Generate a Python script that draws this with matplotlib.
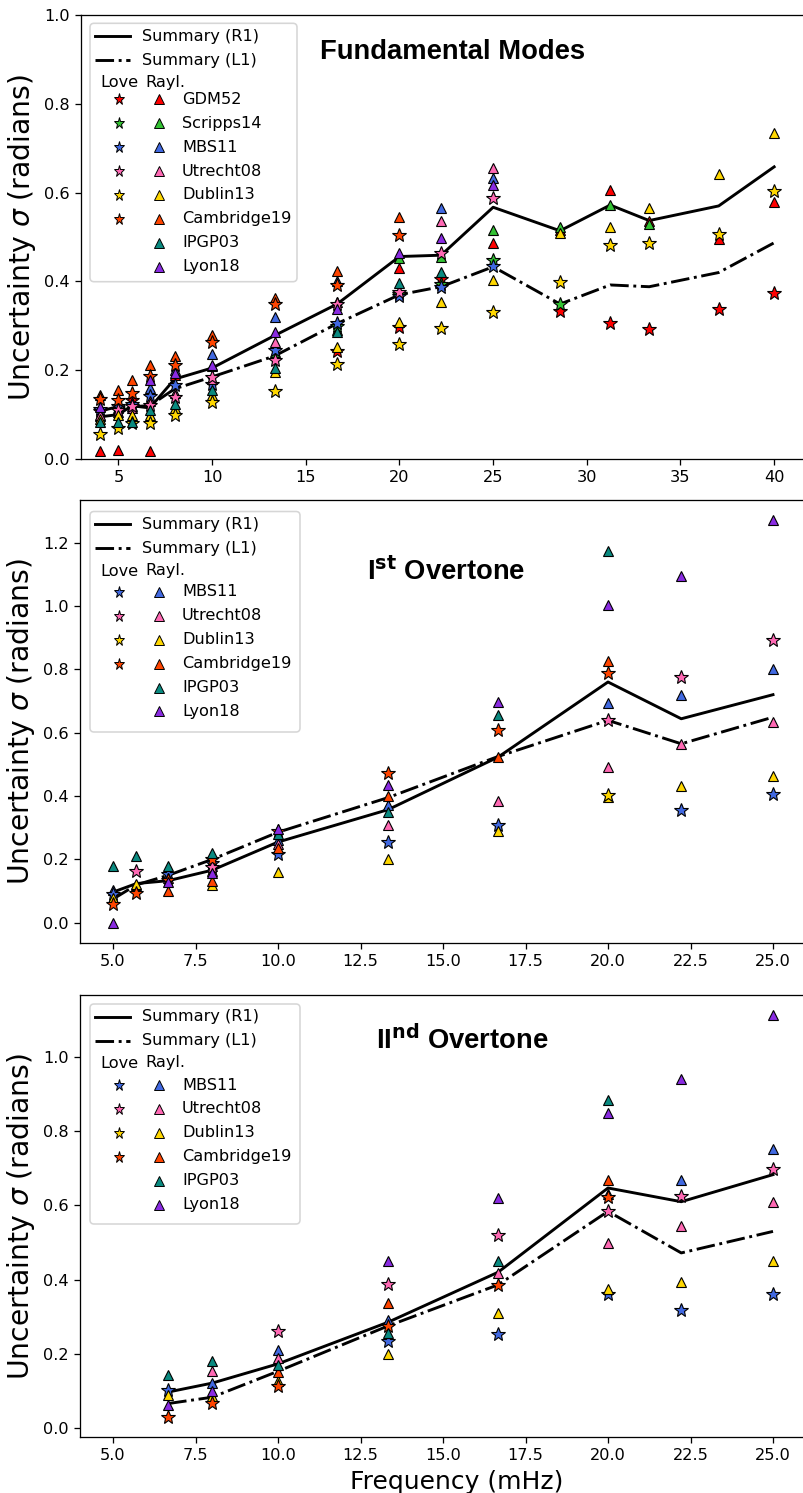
import numpy as np
import matplotlib
matplotlib.use("Agg")
import matplotlib.pyplot as plt
from matplotlib.lines import Line2D
from matplotlib.patches import FancyBboxPatch

nan = np.nan

# ---------------- data ----------------
MODELS = ["GDM52", "Scripps14", "MBS11", "Utrecht08", "Dublin13", "Cambridge19", "IPGP03", "Lyon18"]
COLORS = {"GDM52": "#ff0000", "Scripps14": "#33c233", "MBS11": "#4169e1", "Utrecht08": "#ff69b4",
          "Dublin13": "#ffd700", "Cambridge19": "#ff4500", "IPGP03": "#0a8a80", "Lyon18": "#8a2be2"}

# Fundamental modes
freq_fund = [4.0, 5.0, 5.71, 6.67, 8.0, 10.0, 13.33, 16.67, 20.0, 22.22, 25.0, 28.57, 31.25, 33.33, 37.04, 40.0]
fund_R1 = [0.095, 0.100, 0.120, 0.115, 0.180, 0.205, 0.278, 0.349, 0.456, 0.459, 0.567, 0.514, 0.572, 0.537, 0.570, 0.658]
fund_L1 = [0.108, 0.118, 0.118, 0.120, 0.158, 0.185, 0.232, 0.305, 0.370, 0.388, 0.433, 0.349, 0.392, 0.388, 0.420, 0.487]
fund_rayl_GDM52 = [0.017, 0.020, nan, 0.017, 0.190, nan, nan, nan, 0.430, nan, 0.486, 0.515, 0.606, 0.535, 0.495, 0.579]
fund_love_GDM52 = [0.107, nan, 0.134, nan, nan, nan, nan, 0.244, 0.298, 0.405, nan, 0.334, 0.306, 0.292, 0.337, 0.375]
fund_rayl_Scripps14 = [nan, nan, nan, nan, nan, 0.210, 0.240, 0.290, 0.453, 0.454, 0.516, 0.523, 0.572, 0.529, nan, nan]
fund_love_Scripps14 = [nan, nan, nan, nan, nan, nan, nan, 0.300, 0.372, 0.395, 0.448, 0.349, nan, nan, nan, nan]
fund_rayl_MBS11 = [0.096, 0.115, 0.120, 0.159, 0.200, 0.236, 0.319, 0.400, nan, 0.565, 0.632, nan, nan, nan, nan, nan]
fund_love_MBS11 = [0.113, 0.119, 0.125, 0.142, 0.167, 0.170, 0.245, 0.306, 0.368, 0.388, 0.435, nan, nan, nan, nan, nan]
fund_rayl_Utrecht08 = [0.100, 0.105, 0.114, 0.130, 0.148, 0.180, 0.264, 0.354, nan, 0.536, 0.655, nan, nan, nan, nan, nan]
fund_love_Utrecht08 = [nan, 0.110, 0.120, 0.122, 0.140, 0.185, 0.223, 0.350, 0.377, 0.463, 0.587, nan, nan, nan, nan, nan]
fund_rayl_Dublin13 = [0.090, 0.100, 0.099, 0.100, 0.114, 0.144, 0.197, 0.253, 0.309, 0.354, 0.403, 0.508, 0.523, 0.565, 0.643, 0.735]
fund_love_Dublin13 = [0.056, 0.069, 0.080, 0.082, 0.099, 0.129, 0.153, 0.214, 0.259, 0.296, 0.332, 0.399, 0.482, 0.487, 0.506, 0.604]
fund_rayl_Cambridge19 = [0.144, 0.155, 0.179, 0.212, 0.232, 0.279, 0.362, 0.424, 0.544, nan, nan, nan, nan, nan, nan, nan]
fund_love_Cambridge19 = [0.135, 0.134, 0.148, 0.187, 0.212, 0.264, 0.349, 0.392, 0.505, nan, nan, nan, nan, nan, nan, nan]
fund_rayl_IPGP03 = [0.084, 0.084, 0.084, 0.110, 0.125, 0.155, 0.206, 0.287, 0.396, 0.422, nan, nan, nan, nan, nan, nan]
fund_rayl_Lyon18 = [0.117, nan, nan, 0.178, 0.194, 0.212, 0.285, 0.337, 0.463, 0.497, 0.617, nan, nan, nan, nan, nan]

# First overtone
freq_ov1 = [5.0, 5.71, 6.67, 8.0, 10.0, 13.33, 16.67, 20.0, 22.22, 25.0]
ov1_R1 = [0.097, 0.124, 0.133, 0.166, 0.255, 0.357, 0.523, 0.760, 0.644, 0.720]
ov1_L1 = [0.075, 0.120, 0.150, 0.200, 0.286, 0.395, 0.525, 0.639, 0.565, 0.649]
ov1_rayl_MBS11 = [0.103, 0.120, 0.150, 0.180, 0.260, 0.372, nan, 0.695, 0.720, 0.802]
ov1_love_MBS11 = [0.090, nan, 0.155, 0.190, 0.216, 0.255, 0.308, nan, 0.355, 0.408]
ov1_rayl_Utrecht08 = [nan, nan, 0.140, 0.165, 0.250, 0.308, 0.383, 0.491, 0.565, 0.634]
ov1_love_Utrecht08 = [nan, 0.163, nan, 0.175, nan, nan, nan, 0.641, 0.775, 0.893]
ov1_rayl_Dublin13 = [0.079, 0.124, nan, 0.118, 0.160, 0.202, 0.289, 0.398, 0.431, 0.463]
ov1_love_Dublin13 = [nan, nan, nan, nan, nan, nan, nan, 0.402, nan, nan]
ov1_rayl_Cambridge19 = [nan, nan, 0.100, 0.131, 0.237, 0.399, 0.523, 0.825, nan, nan]
ov1_love_Cambridge19 = [0.061, 0.094, 0.136, 0.200, 0.290, 0.473, 0.607, 0.788, nan, nan]
ov1_rayl_IPGP03 = [0.179, 0.210, 0.179, 0.221, 0.279, 0.350, 0.655, 1.173, nan, nan]
ov1_rayl_Lyon18 = [0.000, nan, 0.129, 0.158, 0.297, 0.436, 0.697, 1.002, 1.093, 1.272]

# Second overtone
freq_ov2 = [6.67, 8.0, 10.0, 13.33, 16.67, 20.0, 22.22, 25.0]
ov2_R1 = [0.097, 0.121, 0.173, 0.285, 0.420, 0.647, 0.610, 0.683]
ov2_L1 = [0.066, 0.083, 0.153, 0.275, 0.386, 0.584, 0.472, 0.530]
ov2_rayl_MBS11 = [nan, 0.121, 0.211, 0.292, nan, 0.630, 0.669, 0.753]
ov2_love_MBS11 = [0.103, nan, nan, 0.235, 0.254, 0.362, 0.317, 0.362]
ov2_rayl_Utrecht08 = [nan, 0.155, 0.188, nan, 0.417, 0.500, 0.545, 0.610]
ov2_love_Utrecht08 = [nan, nan, 0.261, 0.387, 0.521, 0.584, 0.626, 0.698]
ov2_rayl_Dublin13 = [0.088, 0.086, 0.128, 0.200, 0.309, 0.375, 0.393, 0.449]
ov2_rayl_Cambridge19 = [nan, nan, 0.151, 0.337, nan, 0.669, nan, nan]
ov2_love_Cambridge19 = [0.030, 0.067, 0.113, 0.274, 0.386, 0.623, nan, nan]
ov2_rayl_IPGP03 = [0.142, 0.182, 0.170, 0.256, 0.449, 0.884, nan, nan]
ov2_rayl_Lyon18 = [0.061, 0.100, nan, 0.449, 0.620, 0.849, 0.942, 1.113]

panels = [
    dict(freq=freq_fund, R1=fund_R1, L1=fund_L1, title="Fundamental Modes",
         rayl={"GDM52": fund_rayl_GDM52, "Scripps14": fund_rayl_Scripps14, "MBS11": fund_rayl_MBS11,
               "Utrecht08": fund_rayl_Utrecht08, "Dublin13": fund_rayl_Dublin13,
               "Cambridge19": fund_rayl_Cambridge19, "IPGP03": fund_rayl_IPGP03, "Lyon18": fund_rayl_Lyon18},
         love={"GDM52": fund_love_GDM52, "Scripps14": fund_love_Scripps14, "MBS11": fund_love_MBS11,
               "Utrecht08": fund_love_Utrecht08, "Dublin13": fund_love_Dublin13,
               "Cambridge19": fund_love_Cambridge19}),
    dict(freq=freq_ov1, R1=ov1_R1, L1=ov1_L1, title=r"I$^{\mathbf{st}}$ Overtone",
         rayl={"MBS11": ov1_rayl_MBS11, "Utrecht08": ov1_rayl_Utrecht08, "Dublin13": ov1_rayl_Dublin13,
               "Cambridge19": ov1_rayl_Cambridge19, "IPGP03": ov1_rayl_IPGP03, "Lyon18": ov1_rayl_Lyon18},
         love={"MBS11": ov1_love_MBS11, "Utrecht08": ov1_love_Utrecht08, "Dublin13": ov1_love_Dublin13,
               "Cambridge19": ov1_love_Cambridge19}),
    dict(freq=freq_ov2, R1=ov2_R1, L1=ov2_L1, title=r"II$^{\mathbf{nd}}$ Overtone",
         rayl={"MBS11": ov2_rayl_MBS11, "Utrecht08": ov2_rayl_Utrecht08, "Dublin13": ov2_rayl_Dublin13,
               "Cambridge19": ov2_rayl_Cambridge19, "IPGP03": ov2_rayl_IPGP03, "Lyon18": ov2_rayl_Lyon18},
         love={"MBS11": ov2_love_MBS11, "Utrecht08": ov2_love_Utrecht08,
               "Cambridge19": ov2_love_Cambridge19}),
]

# ---------------- layout ----------------
DPI = 116
W, H = 803, 1493
fig = plt.figure(figsize=(W / DPI, H / DPI), dpi=DPI)

# axes rectangles in pixels: left, top, right, bottom
rects = [(81, 15, 806, 459), (80, 499.6, 806, 943), (80, 995, 806, 1437)]
xlims = [(3.0, 41.7), (4.0, 26.0), (4.0, 26.0)]
title_pos = [(0.512, 0.917), (0.504, 0.837), (0.527, 0.898)]
# legend: box (left, top, right, bottom), y of first summary row, y of header, y of first model row
legend_box = [(90, 23.3, 297, 281.7), (90, 511.5, 300, 732), (90, 1004, 300, 1224)]
legend_rows = [(36.0, 82.7, 99.3), (524.0, 571.0, 592.0), (1017.0, 1063.0, 1085.0)]

TRI_MS, STAR_MS = 6.8, 8.6


def P(x, y):
    return x / DPI, (H - y) / DPI


def draw_legend(box, rows, models, love_models):
    x0, y0, x1, y1 = box
    bl = P(x0, y1)
    patch = FancyBboxPatch(bl, (x1 - x0) / DPI, (y1 - y0) / DPI,
                           boxstyle="round,pad=0,rounding_size=0.035",
                           transform=fig.dpi_scale_trans, facecolor="white",
                           edgecolor="0.8", alpha=0.8, lw=1.0, zorder=10)
    fig.add_artist(patch)
    tr = fig.dpi_scale_trans
    ry, hy, my = rows
    for ls, lab in [("-", "Summary (R1)"), ("-.", "Summary (L1)")]:
        a, b = P(95, ry), P(130, ry)
        fig.add_artist(Line2D([a[0], b[0]], [a[1], b[1]], color="k", lw=1.8, ls=ls,
                              transform=tr, zorder=11))
        fig.text(*P(142, ry), lab, transform=tr, va="center", ha="left", fontsize=10, zorder=11)
        ry += 24
    fig.text(*P(100, hy), "Love", transform=tr, va="center", ha="left", fontsize=10, zorder=11)
    fig.text(*P(145, hy), "Rayl.", transform=tr, va="center", ha="left", fontsize=10, zorder=11)
    for m in models:
        if m in love_models:
            p = P(119.3, my)
            fig.add_artist(Line2D([p[0]], [p[1]], marker="*", ms=7.0, mfc=COLORS[m], mec="k",
                                  mew=0.6, ls="none", transform=tr, zorder=11))
        p = P(158.7, my)
        fig.add_artist(Line2D([p[0]], [p[1]], marker="^", ms=5.6, mfc=COLORS[m], mec="k",
                              mew=0.6, ls="none", transform=tr, zorder=11))
        fig.text(*P(182, my), m, transform=tr, va="center", ha="left", fontsize=10, zorder=11)
        my += 23.9


axes = []
for i, (pn, rect) in enumerate(zip(panels, rects)):
    l, t, r, b = rect
    ax = fig.add_axes([l / W, 1 - b / H, (r - l) / W, (b - t) / H])
    axes.append(ax)
    f = pn["freq"]
    ax.plot(f, pn["R1"], color="k", lw=1.8, ls="-", zorder=2)
    ax.plot(f, pn["L1"], color="k", lw=1.8, ls="-.", zorder=2)
    for m in MODELS:
        if m in pn["rayl"]:
            ax.plot(f, pn["rayl"][m], ls="none", marker="^", ms=TRI_MS, mfc=COLORS[m], mec="k",
                    mew=0.7, zorder=3)
        if m in pn["love"]:
            ax.plot(f, pn["love"][m], ls="none", marker="*", ms=STAR_MS, mfc=COLORS[m], mec="k",
                    mew=0.7, zorder=3)
    ax.set_xlim(*xlims[i])
    if i == 0:
        ax.set_ylim(0, 1.0)
        ax.set_xticks([5, 10, 15, 20, 25, 30, 35, 40])
    else:
        ax.set_xticks([5.0, 7.5, 10.0, 12.5, 15.0, 17.5, 20.0, 22.5, 25.0])
    ax.set_ylabel(r"Uncertainty $\sigma$ (radians)", fontsize=17.5)
    ax.text(*title_pos[i], pn["title"], transform=ax.transAxes, ha="center", va="center",
            fontsize=17, fontweight="bold", family="Liberation Sans")
    ax.tick_params(labelsize=10)

axes[2].set_xlabel("Frequency (mHz)", fontsize=15.5)
axes[2].xaxis.set_label_coords((457 - 80) / 726, -0.075)

legend_models = [MODELS, MODELS[2:], MODELS[2:]]
legend_love = [MODELS[:6], MODELS[2:6], MODELS[2:6]]
for i in range(3):
    draw_legend(legend_box[i], legend_rows[i], legend_models[i], legend_love[i])

fig.savefig("out.png", dpi=DPI)
